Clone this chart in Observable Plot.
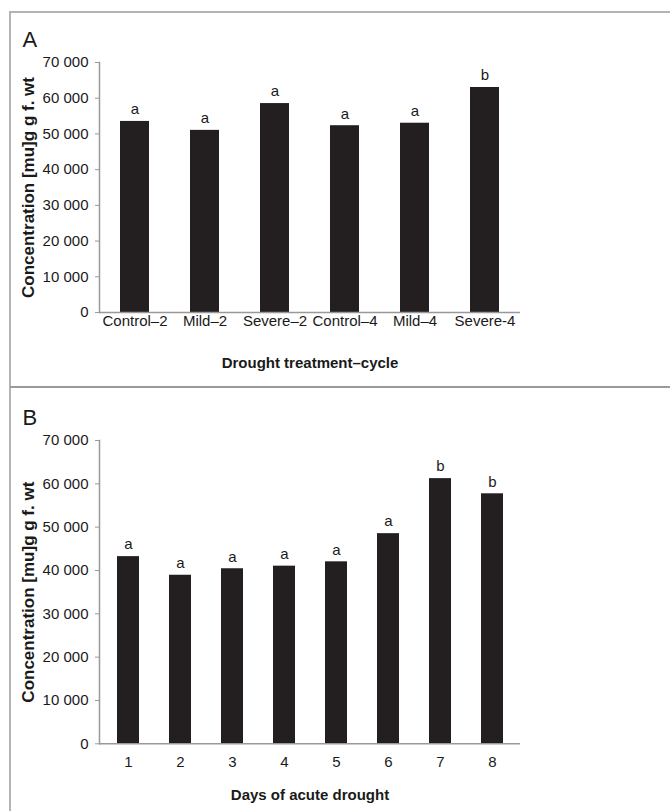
<!DOCTYPE html>
<html><head><meta charset="utf-8">
<script src="https://cdn.jsdelivr.net/npm/d3@7"></script>
<script src="https://cdn.jsdelivr.net/npm/@observablehq/plot@0.6"></script>
<style>
body{margin:0;background:#fff;width:670px;height:811px;overflow:hidden;position:relative;font-family:"Liberation Sans",Arial,sans-serif}
#a{position:absolute;left:0;top:0}
#b{position:absolute;left:0;top:388px}
.border{position:absolute;left:9px;top:11px;width:800px;height:900px;border-left:2px solid #b4b4b4;border-top:2px solid #b4b4b4;z-index:2;pointer-events:none}
.divider{position:absolute;left:10px;top:386px;width:800px;height:2px;background:#9a9a9a;z-index:2}
</style>
</head><body>
<div class="border"></div>
<div class="divider"></div>
<div id="a"></div>
<div id="b"></div>
<script>
const categoriesA = ["Control\u20132","Mild\u20132","Severe\u20132","Control\u20134","Mild\u20134","Severe-4"];
const valuesA = [53500, 51000, 58500, 52300, 53000, 63000];
const lettersA = ["a","a","a","a","a","b"];

const daysB = ["1","2","3","4","5","6","7","8"];
const valuesB = [43200, 38900, 40400, 41000, 42000, 48500, 61200, 57700];
const lettersB = ["a","a","a","a","a","a","b","b"];

const yTicks = [0,10000,20000,30000,40000,50000,60000,70000];
const yTitle = "Concentration [mu]g g f. wt";
const fmt = d => d === 0 ? "0" : d3.format(",")(d).replace(",", " ");

function panel({cats, vals, letters, label, xTitle, height, marginTop, marginBottom, tickPadX, padding}) {
  const data = cats.map((c,i) => ({cat:c, value:vals[i], letter:letters[i]}));
  return Plot.plot({
    width: 670, height, marginLeft: 99, marginRight: 150, marginTop, marginBottom,
    style: {fontFamily: "'Liberation Sans', Arial, sans-serif", fontSize: "15px", background: "transparent", overflow: "visible", color: "#1a1a1a"},
    x: {type: "band", domain: cats, paddingInner: padding, paddingOuter: padding/2, label: null},
    y: {domain: [0, 70000], label: null},
    marks: [
      Plot.barY(data, {x: "cat", y: "value", fill: "#231f20"}),
      Plot.text(data, {x: "cat", y: "value", text: "letter", dy: -12, lineAnchor: "middle", fontSize: 15}),
      Plot.ruleY([0], {stroke: "#999", strokeWidth: 1.5}),
      Plot.frame({anchor: "left", stroke: "#999", strokeWidth: 1.5}),
      Plot.axisY({ticks: yTicks, tickFormat: fmt, tickSize: 4, tickPadding: 7, stroke: "#999", label: null, fontSize: 15}),
      Plot.axisX({tickSize: 0, tickPadding: tickPadX, label: null, fontSize: 15}),
      Plot.text([yTitle], {frameAnchor: "left", dx: -71, rotate: -90, textAnchor: "middle", lineAnchor: "middle", fontWeight: "bold", fontSize: 17}),
      Plot.text([xTitle], {frameAnchor: "bottom", dy: 51, textAnchor: "middle", lineAnchor: "middle", fontWeight: "bold", fontSize: 15}),
      Plot.text([label], {frameAnchor: "top-left", dx: -77, dy: -23, textAnchor: "start", lineAnchor: "middle", fontSize: 22})
    ]
  });
}

document.getElementById("a").append(panel({cats: categoriesA, vals: valuesA, letters: lettersA, label: "A",
  xTitle: "Drought treatment\u2013cycle", height: 387, marginTop: 62, marginBottom: 75, tickPadX: 3, padding: 0.587}));
document.getElementById("b").append(panel({cats: daysB, vals: valuesB, letters: lettersB, label: "B",
  xTitle: "Days of acute drought", height: 423, marginTop: 52, marginBottom: 67.7, tickPadX: 13, padding: 0.582}));
</script>
</body></html>
